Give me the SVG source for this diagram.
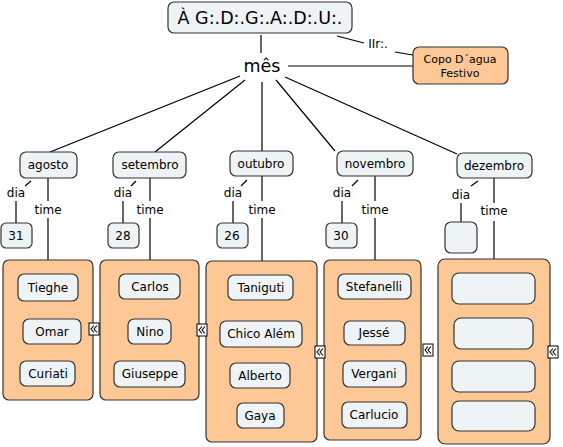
<svg xmlns="http://www.w3.org/2000/svg" width="563" height="447" viewBox="0 0 563 447">
<style>
.n{fill:#eef3f5;stroke:#333;stroke-width:1.2}
.o{fill:#fdc896;stroke:#333;stroke-width:1.2}
.l{stroke:#000;stroke-width:1.2;fill:none}
text{font-family:"DejaVu Sans",Verdana,sans-serif;font-size:12px;fill:#000;text-anchor:middle}
.big{font-size:17.5px}
.sm{font-size:11px}
.ic{fill:#fff;stroke:#000;stroke-width:1}
.ch{fill:none;stroke:#000;stroke-width:1.1}
</style>
<defs>
<g id="icon"><rect class="ic" x="0" y="0" width="10" height="12"/><polyline class="ch" points="5,2.5 2,6 5,9.5"/><polyline class="ch" points="8,2.5 5,6 8,9.5"/></g>
</defs>
<g id="connectors">
<line class="l" x1="261" y1="35" x2="261" y2="53"/>
<line class="l" x1="337" y1="36" x2="364" y2="43"/>
<line class="l" x1="395" y1="52" x2="413" y2="55"/>
<line class="l" x1="288" y1="66" x2="413" y2="66"/>
<line class="l" x1="240" y1="76" x2="50" y2="152"/>
<line class="l" x1="245" y1="80" x2="155" y2="152"/>
<line class="l" x1="262" y1="82" x2="262" y2="151"/>
<line class="l" x1="276" y1="80" x2="335" y2="151"/>
<line class="l" x1="285" y1="77" x2="457" y2="154"/>
<line class="l" x1="31" y1="181" x2="25" y2="186"/>
<line class="l" x1="16" y1="201" x2="16" y2="223"/>
<line class="l" x1="48" y1="178" x2="48" y2="201"/>
<line class="l" x1="48" y1="218" x2="48" y2="260"/>
<line class="l" x1="136" y1="181" x2="131" y2="186"/>
<line class="l" x1="123" y1="201" x2="123" y2="223"/>
<line class="l" x1="150" y1="178" x2="150" y2="201"/>
<line class="l" x1="150" y1="218" x2="150" y2="260"/>
<line class="l" x1="247" y1="180" x2="241" y2="186"/>
<line class="l" x1="233" y1="201" x2="233" y2="223"/>
<line class="l" x1="262" y1="176" x2="262" y2="201"/>
<line class="l" x1="262" y1="218" x2="262" y2="261"/>
<line class="l" x1="358" y1="180" x2="352" y2="186"/>
<line class="l" x1="342" y1="201" x2="342" y2="223"/>
<line class="l" x1="375" y1="176" x2="375" y2="201"/>
<line class="l" x1="375" y1="218" x2="375" y2="260"/>
<line class="l" x1="478" y1="181" x2="471" y2="186"/>
<line class="l" x1="461" y1="203" x2="461" y2="222"/>
<line class="l" x1="494" y1="178" x2="494" y2="203"/>
<line class="l" x1="494" y1="221" x2="494" y2="259"/>
</g>
<g id="labels">
<text x="378" y="48">IIr:.</text>
<text x="16" y="197">dia</text><text x="48" y="214">time</text>
<text x="123" y="197">dia</text><text x="150" y="214">time</text>
<text x="233" y="197">dia</text><text x="262" y="214">time</text>
<text x="342" y="197">dia</text><text x="375" y="214">time</text>
<text x="461" y="199">dia</text><text x="494" y="215">time</text>
</g>
<g id="root"><rect class="n" x="168" y="2" width="184" height="31" rx="6"/><text class="big" x="260" y="24">À G:.D:.G:.A:.D:.U:.</text></g>
<g id="mes"><text class="big" x="262" y="72">mês</text></g>
<g id="copo"><rect class="o" x="413" y="47" width="95" height="37" rx="6"/><text class="sm" x="460" y="63">Copo D´agua</text><text class="sm" x="460" y="77">Festivo</text></g>
<g id="agosto"><rect class="n" x="20" y="152" width="57" height="26" rx="6"/><text x="48" y="169">agosto</text></g>
<g id="setembro"><rect class="n" x="113" y="152" width="73" height="26" rx="6"/><text x="150" y="169">setembro</text></g>
<g id="outubro"><rect class="n" x="230" y="151" width="63" height="25" rx="6"/><text x="261" y="168">outubro</text></g>
<g id="novembro"><rect class="n" x="337" y="151" width="76" height="25" rx="6"/><text x="375" y="168">novembro</text></g>
<g id="dezembro"><rect class="n" x="457" y="153" width="75" height="25" rx="6"/><text x="494" y="170">dezembro</text></g>
<g id="d31"><rect class="n" x="1" y="223" width="31" height="25" rx="5"/><text x="16" y="240">31</text></g>
<g id="d28"><rect class="n" x="108" y="223" width="31" height="25" rx="5"/><text x="123" y="240">28</text></g>
<g id="d26"><rect class="n" x="217" y="223" width="31" height="25" rx="5"/><text x="232" y="240">26</text></g>
<g id="d30"><rect class="n" x="326" y="223" width="31" height="25" rx="5"/><text x="341" y="240">30</text></g>
<g id="ddez"><rect class="n" x="445" y="222" width="32" height="31" rx="6"/></g>
<g id="team-agosto">
<rect class="o" x="3" y="260" width="90" height="140" rx="6"/>
<rect class="n" x="18" y="274" width="60" height="27" rx="6"/><text x="48" y="292">Tieghe</text>
<rect class="n" x="23" y="319" width="58" height="25" rx="6"/><text x="52" y="336">Omar</text>
<rect class="n" x="20" y="361" width="55" height="25" rx="6"/><text x="48" y="378">Curiati</text>
</g>
<g id="team-setembro">
<rect class="o" x="100" y="260" width="99" height="140" rx="6"/>
<rect class="n" x="119" y="274" width="61" height="25" rx="6"/><text x="150" y="291">Carlos</text>
<rect class="n" x="128" y="319" width="43" height="25" rx="6"/><text x="150" y="336">Nino</text>
<rect class="n" x="114" y="361" width="71" height="26" rx="6"/><text x="150" y="378">Giuseppe</text>
</g>
<g id="team-outubro">
<rect class="o" x="206" y="261" width="111" height="181" rx="6"/>
<rect class="n" x="228" y="275" width="65" height="25" rx="6"/><text x="261" y="292">Taniguti</text>
<rect class="n" x="220" y="321" width="82" height="26" rx="6"/><text x="261" y="338">Chico Além</text>
<rect class="n" x="230" y="363" width="60" height="25" rx="6"/><text x="260" y="380">Alberto</text>
<rect class="n" x="237" y="403" width="47" height="25" rx="6"/><text x="260" y="420">Gaya</text>
</g>
<g id="team-novembro">
<rect class="o" x="324" y="260" width="97" height="180" rx="6"/>
<rect class="n" x="338" y="274" width="73" height="25" rx="6"/><text x="374" y="291">Stefanelli</text>
<rect class="n" x="344" y="321" width="61" height="24" rx="6"/><text x="374" y="337">Jessé</text>
<rect class="n" x="343" y="361" width="63" height="26" rx="6"/><text x="374" y="378">Vergani</text>
<rect class="n" x="342" y="402" width="65" height="26" rx="6"/><text x="374" y="419">Carlucio</text>
</g>
<g id="team-dezembro">
<rect class="o" x="438" y="259" width="112" height="185" rx="7"/>
<rect class="n" x="452" y="273" width="83" height="31" rx="7"/>
<rect class="n" x="454" y="318" width="79" height="31" rx="7"/>
<rect class="n" x="452" y="361" width="83" height="31" rx="7"/>
<rect class="n" x="452" y="401" width="83" height="30" rx="7"/>
</g>
<g id="icons">
<use href="#icon" x="89" y="323"/>
<use href="#icon" x="197" y="324"/>
<use href="#icon" x="315" y="346"/>
<use href="#icon" x="423" y="344"/>
<use href="#icon" x="548" y="346"/>
</g>
</svg>
